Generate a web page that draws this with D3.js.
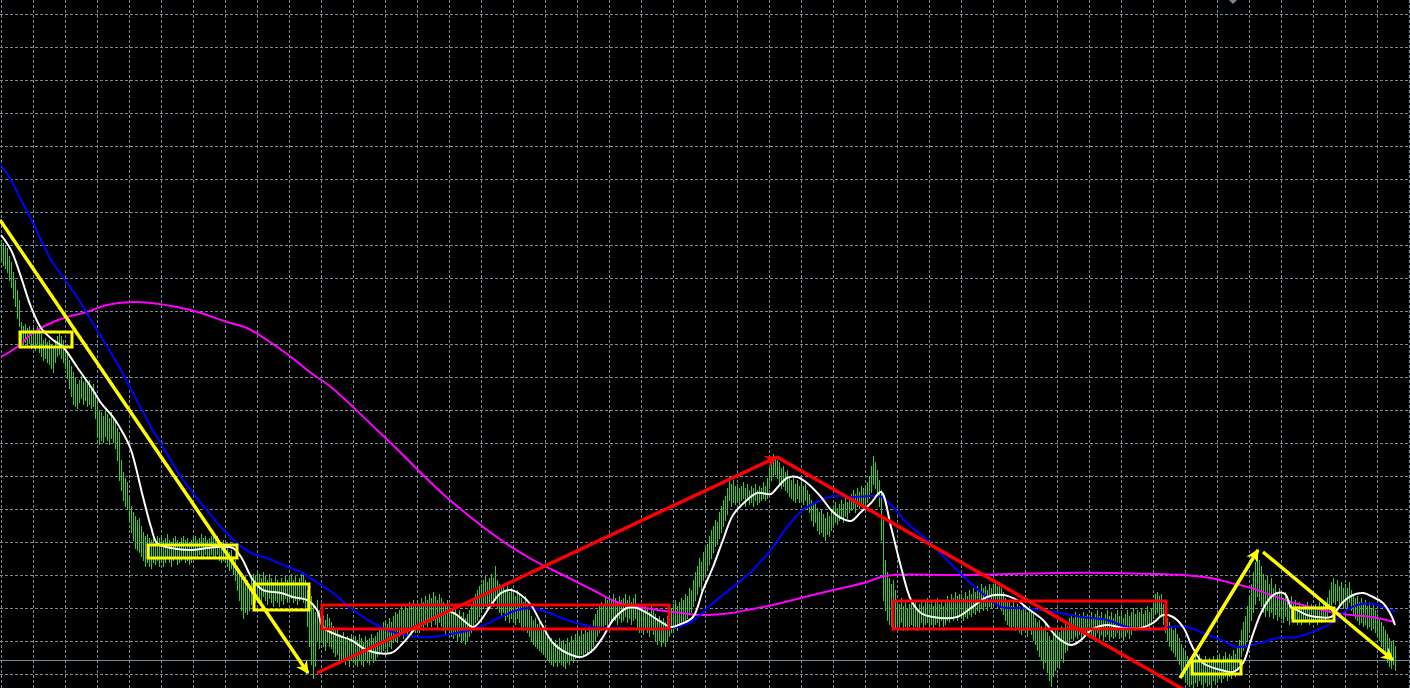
<!DOCTYPE html>
<html>
<head>
<meta charset="utf-8">
<script src="https://cdn.jsdelivr.net/npm/d3@7"></script>
<style>
  html, body { margin: 0; padding: 0; background: #000; overflow: hidden; }
</style>
</head>
<body>
<script>
// price in points above the lowest grid line, one bar every 2px (16 bars per grid cell)
var barHigh = [
  434,431,428,426,418,412,402,394,384,374,352,348,350,346,348,344,
  346,342,348,344,340,334,336,332,334,330,328,334,338,342,338,334,
  330,322,314,308,302,296,290,294,298,292,296,290,294,288,290,282,
  272,264,262,258,264,260,256,262,258,254,246,242,214,202,196,192,
  178,168,162,158,154,156,148,142,138,140,136,134,138,134,138,136,
  138,134,136,140,134,132,136,138,134,132,136,138,134,136,132,134,
  136,138,134,136,140,136,138,134,136,138,140,136,138,134,132,134,
  130,126,122,124,118,114,108,102,96,92,98,94,90,96,100,98,
  102,100,96,102,98,94,100,96,92,98,94,90,96,92,98,94,
  96,100,94,98,92,96,100,102,94,84,68,78,70,62,74,64,
  62,58,54,60,56,52,48,44,46,40,38,42,36,38,34,40,
  36,38,34,40,36,32,38,34,36,40,36,38,42,44,48,52,
  54,50,56,52,58,62,60,64,68,64,70,66,72,68,74,70,
  74,70,76,72,78,74,80,76,82,78,74,80,76,72,68,74,
  70,66,62,66,60,64,58,62,56,60,64,70,76,80,84,88,
  90,94,98,92,96,100,96,108,94,90,86,90,84,88,82,86,
  82,78,84,80,76,72,78,70,64,58,54,56,50,52,46,48,
  42,38,34,36,32,34,30,36,32,34,30,36,32,38,34,40,
  42,38,44,40,46,42,48,46,54,60,64,68,72,68,76,74,
  78,74,80,76,72,78,74,76,80,74,78,72,76,80,70,66,
  68,64,70,66,62,68,64,60,56,58,54,56,52,58,62,66,
  70,74,68,72,76,74,80,78,86,84,94,102,108,116,112,122,
  126,130,138,144,148,154,152,162,168,174,178,186,198,190,194,188,
  190,186,188,192,186,190,184,188,186,190,184,188,186,192,188,196,
  208,216,220,218,214,212,206,208,202,204,198,194,196,190,194,188,
  192,188,190,184,180,174,170,172,166,162,164,160,156,162,158,164,
  168,172,166,170,174,170,176,172,178,180,184,180,186,182,188,186,
  188,192,198,208,218,212,204,194,184,154,114,102,96,90,94,84,
  74,70,76,68,72,66,70,74,68,72,66,70,74,68,72,76,
  70,74,68,72,76,70,74,68,72,78,74,80,76,82,78,80,
  80,76,82,78,84,80,86,82,88,84,90,86,88,84,90,86,
  90,94,88,92,86,82,76,72,74,68,72,66,70,68,64,68,
  66,62,68,64,60,56,52,54,48,44,50,42,38,34,40,44,
  46,42,48,44,52,48,56,60,56,62,58,60,56,62,58,60,
  58,62,56,60,64,58,62,56,60,64,58,62,56,60,64,58,
  62,56,60,64,58,62,66,60,64,62,66,60,64,68,62,66,
  74,80,82,78,80,70,62,56,52,48,44,46,40,36,30,26,
  22,18,14,16,12,18,14,20,16,12,18,14,16,12,18,14,
  16,20,14,18,22,16,20,18,24,20,28,34,44,52,58,68,
  78,90,102,112,122,114,108,100,94,98,90,96,86,90,82,86,
  80,76,82,78,74,78,70,74,68,72,66,70,68,72,66,70,
  68,70,66,72,68,74,70,76,84,92,96,90,94,88,92,86,
  90,86,92,84,80,76,78,72,76,70,74,68,72,66,70,64,
  60,56,52,48,44,40,36,32,34,28
];
var barLow = [
  412,409,406,402,394,387,376,368,356,348,334,330,332,328,331,326,
  328,324,330,322,318,314,316,312,310,306,302,312,318,320,316,312,
  306,296,286,278,270,268,266,272,276,270,274,268,270,266,268,256,
  238,230,234,232,238,234,230,236,232,226,214,194,184,174,168,166,
  154,142,134,126,124,122,118,114,108,112,108,106,112,110,114,108,
  114,108,112,116,112,108,114,116,110,112,114,116,112,114,110,112,
  118,116,116,120,118,116,120,116,118,120,118,116,120,114,112,114,
  112,108,104,106,100,94,84,74,64,56,62,60,64,70,74,72,
  76,74,70,78,74,70,76,72,68,74,72,68,74,70,76,72,
  74,76,72,74,70,74,76,72,66,48,28,10,-4,8,34,26,
  34,28,24,32,28,26,22,18,20,14,12,16,10,14,8,14,
  12,10,8,14,10,8,14,12,10,16,12,14,18,20,22,24,
  26,22,28,26,32,34,32,38,40,36,42,38,44,40,46,42,
  46,42,48,44,50,48,52,48,54,50,46,52,48,44,40,46,
  42,38,36,40,34,38,32,34,30,34,38,42,48,52,54,58,
  62,66,68,64,70,72,68,74,66,62,58,62,54,58,52,56,
  52,50,56,52,46,44,48,42,38,34,30,28,26,24,22,20,
  18,14,12,10,8,12,8,12,10,8,6,12,10,14,12,16,
  18,16,20,18,22,20,24,22,28,34,38,42,44,46,50,48,
  54,52,56,54,50,56,52,54,58,52,56,50,54,56,46,42,
  44,40,46,42,38,44,40,34,30,34,28,32,28,34,38,42,
  42,46,44,48,50,52,54,56,60,62,68,74,80,88,84,94,
  98,104,110,116,122,128,130,136,142,148,154,160,174,168,172,170,
  172,170,174,176,168,174,170,172,168,174,170,172,174,176,174,176,
  186,194,198,200,196,190,186,188,184,182,178,176,174,172,176,172,
  174,170,174,166,162,154,148,152,144,140,142,138,134,140,138,144,
  148,152,150,154,156,152,158,156,162,164,166,162,168,166,170,168,
  170,172,176,182,190,186,180,168,134,74,64,54,50,48,52,46,
  50,46,52,44,48,44,48,50,46,48,44,46,52,46,50,52,
  48,50,46,50,52,48,54,48,50,54,52,56,54,58,54,58,
  56,54,58,56,60,58,62,60,64,62,66,64,68,64,68,66,
  68,70,66,68,64,60,54,50,48,46,48,44,46,42,40,44,
  42,38,44,40,34,30,24,18,14,6,12,2,-6,-12,-2,4,
  10,6,16,12,22,24,30,36,34,38,36,40,36,40,38,42,
  38,40,36,38,42,36,40,34,38,40,34,38,36,38,42,36,
  40,34,38,42,36,40,46,44,48,46,48,44,48,50,46,50,
  56,60,62,58,60,50,42,34,28,24,22,18,14,10,4,-2,
  -6,-10,-12,-10,-14,-8,-12,-6,-10,-14,-8,-12,-10,-14,-6,-10,
  -6,-4,-8,-4,-2,-6,-2,-4,0,-2,4,10,18,24,28,34,
  42,54,62,70,78,74,68,62,58,64,58,62,56,60,54,58,
  56,52,58,54,50,56,52,54,50,52,50,54,52,54,50,52,
  52,54,50,54,52,56,54,58,62,68,72,70,74,68,72,66,
  70,66,72,64,60,56,54,50,52,48,50,46,48,44,46,42,
  38,34,28,22,18,12,8,6,10,4
];

// moving averages, [bar, price]
var fastMA = [
  [0,439],[5,424],[10,397],[15,367],[20,346],[26,334],[31,327],[38,307],[45,287],[50,271],
  [56,257],[61,241],[65,224],[71,177],[75,147],[78,131],[85,126],[96,124],[103,126],[108,127],
  [116,126],[120,117],[126,94],[131,84],[140,81],[146,77],[153,74],[158,64],[161,47],[168,39],
  [175,34],[183,24],[195,21],[201,31],[208,47],[216,56],[225,62],[231,54],[236,47],[240,54],
  [245,69],[250,81],[255,84],[260,79],[265,69],[270,51],[276,31],[283,21],[290,17],[296,24],
  [301,37],[306,54],[313,66],[318,66],[323,61],[330,52],[335,47],[340,50],[346,57],[351,84],
  [356,107],[361,134],[366,159],[373,174],[378,181],[385,180],[388,186],[393,196],[398,197],[403,191],
  [410,177],[415,164],[420,156],[425,153],[430,162],[435,171],[440,182],[445,147],[450,107],[455,74],
  [460,61],[466,57],[478,57],[485,66],[493,77],[501,79],[508,74],[513,66],[521,54],[528,37],
  [535,29],[540,34],[545,44],[553,49],[561,46],[570,46],[576,51],[581,59],[586,57],[591,47],
  [596,26],[601,11],[610,4],[616,2],[621,11],[625,34],[630,61],[635,77],[638,81],[642,80],
  [645,67],[648,64],[653,59],[658,57],[665,57],[668,64],[671,72],[676,79],[681,81],[686,77],
  [691,71],[695,59],[697,49]
];
var midMA = [
  [0,509],[5,494],[10,474],[16,451],[25,414],[31,397],[38,377],[45,354],[51,334],[58,311],
  [66,281],[75,247],[81,227],[90,197],[100,171],[110,147],[118,131],[125,121],[133,116],[141,109],
  [150,102],[156,94],[166,81],[176,64],[186,51],[196,42],[208,37],[215,37],[225,40],[238,46],
  [250,57],[258,64],[265,66],[273,62],[283,54],[296,47],[310,46],[323,45],[335,46],[345,52],
  [356,71],[366,87],[376,104],[386,127],[393,147],[401,164],[410,174],[416,178],[425,177],[440,177],
  [446,167],[453,151],[463,134],[473,114],[483,94],[493,77],[500,67],[510,66],[520,64],[530,61],
  [540,57],[553,54],[563,47],[576,44],[583,47],[593,47],[601,41],[610,34],[618,27],[625,29],
  [631,32],[638,36],[648,37],[658,44],[666,52],[673,64],[680,70],[686,70],[691,67],[697,62]
];
var slowMA = [
  [0,317],[8,327],[16,341],[25,351],[33,357],[43,362],[53,369],[65,372],[75,371],[88,367],
  [100,361],[113,352],[123,346],[133,334],[145,317],[155,301],[165,287],[188,244],[200,221],
  [212,197],[225,173],[250,134],[266,114],[283,97],[296,84],[308,72],[325,65],[340,61],[350,59],
  [365,61],[373,64],[386,69],[396,74],[410,81],[423,87],[433,92],[440,97],[446,99],[480,99],
  [528,101],[556,101],[578,100],[591,99],[605,96],[615,91],[625,86],[635,79],[645,72],[655,67],
  [665,62],[675,59],[685,57],[697,52]
];

// drawn objects: boxes [barFrom, barTo, priceTop, priceBottom], trend lines [bar1, price1, bar2, price2]
var yellowBoxes = [[9.5,35.5,342,327],[73.5,118,129,116],[126.5,154,90,64],[595.5,620,13,0],[646,666.5,66,53]];
var redBoxes = [[160.5,334,69,45],[446,582.5,73,45]];
var yellowArrows = [[-0.5,454,153.5,1],[589.5,-4,628.5,124],[631,122,696,14]];
var redArrows = [[158,1,388,217]];
var redLines = [[388,217,604,-30]];
var bidPrice = 14;
var shiftBar = 616;

var width = 1410, height = 688;
var gridColor = "#778899";

var x = d3.scaleLinear().domain([0, 705]).range([1, 1411]);
var y = d3.scaleLinear().domain([-14, 674]).range([688, 0]);

var svg = d3.select("body").append("svg")
    .attr("width", width)
    .attr("height", height)
    .style("display", "block")
    .style("background", "#000");

var defs = svg.append("defs");
function arrowMarker(id, color) {
    defs.append("marker")
        .attr("id", id)
        .attr("viewBox", "0 0 10 10")
        .attr("refX", 9)
        .attr("refY", 5)
        .attr("markerUnits", "userSpaceOnUse")
        .attr("markerWidth", 15)
        .attr("markerHeight", 13)
        .attr("orient", "auto")
        .append("path")
        .attr("d", "M0,0 L10,5 L0,10 L3,5 z")
        .attr("fill", color);
}
arrowMarker("arrowYellow", "#ffff00");
arrowMarker("arrowRed", "#ff0000");

// grid
var grid = svg.append("g").attr("shape-rendering", "crispEdges");
grid.selectAll("line.vg")
    .data(d3.range(0, 706, 16))
    .enter().append("line")
    .attr("class", "vg")
    .attr("x1", function(d) { return x(d) + 0.5; })
    .attr("x2", function(d) { return x(d) + 0.5; })
    .attr("y1", 0)
    .attr("y2", height)
    .attr("stroke", gridColor)
    .attr("stroke-dasharray", "3,2");
grid.selectAll("line.hg")
    .data(d3.range(0, 661, 33))
    .enter().append("line")
    .attr("class", "hg")
    .attr("x1", 0)
    .attr("x2", width)
    .attr("y1", function(d) { return y(d) + 0.5; })
    .attr("y2", function(d) { return y(d) + 0.5; })
    .attr("stroke", gridColor)
    .attr("stroke-dasharray", "3,2");

// bid line
svg.append("line")
    .attr("x1", 0).attr("x2", width)
    .attr("y1", y(bidPrice) + 0.5).attr("y2", y(bidPrice) + 0.5)
    .attr("stroke", gridColor)
    .attr("shape-rendering", "crispEdges");

// bars
svg.append("g").attr("shape-rendering", "crispEdges")
    .selectAll("line")
    .data(barHigh)
    .enter().append("line")
    .attr("x1", function(d, i) { return x(i) + 0.5; })
    .attr("x2", function(d, i) { return x(i) + 0.5; })
    .attr("y1", function(d) { return y(d); })
    .attr("y2", function(d, i) { return y(barLow[i]) + 1; })
    .attr("stroke", "#32cd32");

// moving averages
var maLine = d3.line()
    .x(function(d) { return x(d[0]); })
    .y(function(d) { return y(d[1]); })
    .curve(d3.curveCatmullRom.alpha(0.5));

[[slowMA, "#ff00ff"], [midMA, "#0000ff"], [fastMA, "#ffffff"]].forEach(function(s) {
    svg.append("path")
        .attr("d", maLine(s[0]))
        .attr("fill", "none")
        .attr("stroke", s[1])
        .attr("stroke-width", 2);
});

// drawn objects
function boxes(data, color) {
    svg.append("g").selectAll("rect")
        .data(data)
        .enter().append("rect")
        .attr("x", function(d) { return x(d[0]); })
        .attr("y", function(d) { return y(d[2]); })
        .attr("width", function(d) { return x(d[1]) - x(d[0]); })
        .attr("height", function(d) { return y(d[3]) - y(d[2]); })
        .attr("fill", "none")
        .attr("stroke", color)
        .attr("stroke-width", 3);
}
function lines(data, color, marker) {
    svg.append("g").selectAll("line")
        .data(data)
        .enter().append("line")
        .attr("x1", function(d) { return x(d[0]); })
        .attr("y1", function(d) { return y(d[1]); })
        .attr("x2", function(d) { return x(d[2]); })
        .attr("y2", function(d) { return y(d[3]); })
        .attr("stroke", color)
        .attr("stroke-width", 3.5)
        .attr("marker-end", marker ? "url(#" + marker + ")" : null);
}
boxes(redBoxes, "#ff0000");
lines(redLines, "#ff0000", null);
lines(redArrows, "#ff0000", "arrowRed");
boxes(yellowBoxes, "#ffff00");
lines(yellowArrows, "#ffff00", "arrowYellow");

// chart shift marker
var sx = x(shiftBar);
svg.append("path")
    .attr("d", "M" + (sx - 4) + ",0 L" + (sx + 4) + ",0 L" + sx + ",4 z")
    .attr("fill", gridColor);
</script>
</body>
</html>
